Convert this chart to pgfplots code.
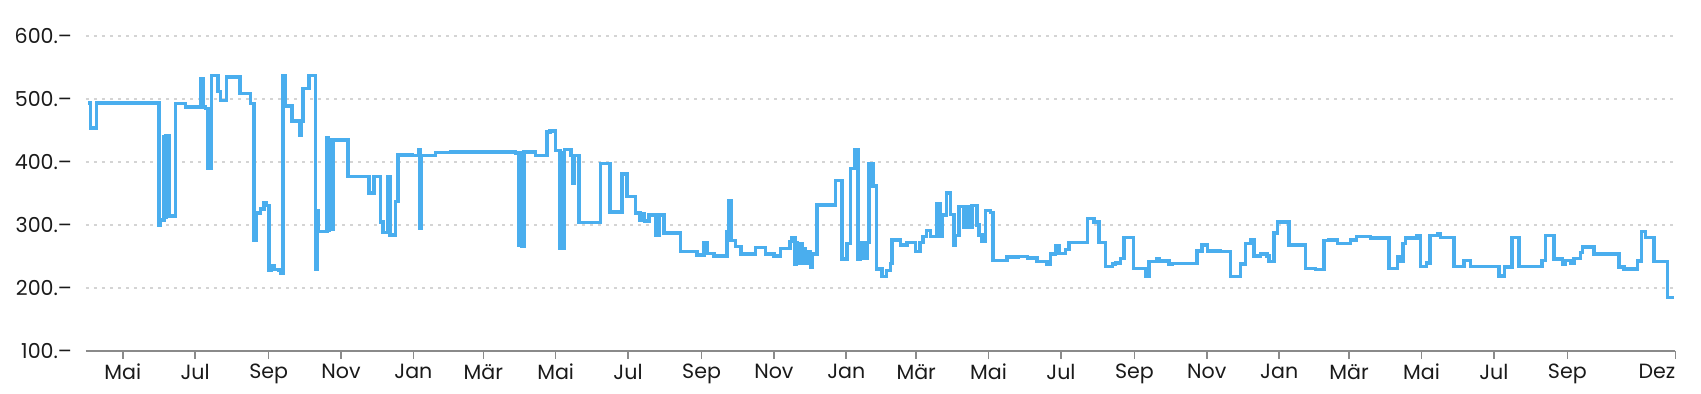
\documentclass[border=0pt]{standalone}
\usepackage{fontspec}
\setmainfont{Poppins}
\usepackage{pgfplots}
\pgfplotsset{compat=1.18}
\definecolor{linecol}{HTML}{4AAEEE}
\definecolor{gridcol}{HTML}{D4D4D4}
\definecolor{axiscol}{HTML}{8A8A8A}
\definecolor{txtcol}{HTML}{1A1A1A}
\begin{document}
\begin{tikzpicture}
\useasboundingbox (-43pt,-21.5pt) rectangle (807.5pt,175.5pt);
\begin{axis}[
  scale only axis,
  width=794.65pt, height=157.5pt,
  xmin=-276, xmax=1064,
  ymin=100, ymax=600,
  axis x line*=bottom,
  axis y line*=left,
  y axis line style={draw=none},
  x axis line style={draw=axiscol, line width=0.8pt},
  xtick={-245,-184,-122,-61,0,59,120,181,243,304,365,424,485,546,608,669,730,789,850,911,973,1064},
  xticklabels={Mai,Jul,Sep,Nov,Jan,Mär,Mai,Jul,Sep,Nov,Jan,Mär,Mai,Jul,Sep,Nov,Jan,Mär,Mai,Jul,Sep,\makebox[0pt][r]{Dez}},
  ytick={100,200,300,400,500,600},
  yticklabels={100.–,200.–,300.–,400.–,500.–,600.–},
  tick align=outside,
  x tick style={draw=axiscol, line width=0.8pt},
  y tick style={draw=none},
  major tick length=4pt,
  ymajorgrids,
  grid style={draw=gridcol, line width=0.6pt, dash pattern=on 1.5pt off 2.5pt},
  ticklabel style={font=\fontsize{10.3}{12}\selectfont, text=txtcol},
  yticklabel style={xshift=0.5pt},
  xticklabel style={yshift=1pt},
  clip=false,
]
\addplot[const plot, color=linecol, line width=1.75pt, mark=none] coordinates {
(-274,494) (-272,454) (-267,494) (-214.6,300) (-213.2,308) (-210.4,440) (-209.3,312) (-208.5,442) (-206.2,314)
(-200.5,493) (-192.1,487) (-179.5,532) (-177.2,487) (-175.2,485) (-173.3,390) (-172.5,485) (-171.5,390)
(-170.2,537) (-164.6,512) (-162.6,498) (-157.5,535) (-146.3,509) (-137.3,493) (-134.5,276) (-132.2,319)
(-128.9,325) (-126.1,335) (-123.8,331) (-121.8,228) (-119.5,235) (-117.6,229) (-113.4,228) (-111.6,223)
(-110.0,537) (-107.8,489) (-102.2,465) (-95.7,443) (-94.5,465) (-92.9,517) (-88.1,537) (-82.5,229)
(-81.0,322) (-79.8,290) (-72.7,439) (-71.5,292) (-70.5,436) (-69.2,293) (-67.6,435) (-55.2,377)
(-37.5,351) (-33.3,377) (-27.7,305) (-25.4,288) (-21.5,377) (-19.8,284) (-15.0,337) (-13.1,411)
(-1.0,410) (4.6,419) (5.5,295) (6.9,410) (18.7,415) (31.3,416) (86.1,414) (89.0,268) (90.5,414)
(91.5,266) (93.2,416) (103.0,410) (112.8,448) (115,449) (119.9,418) (123.5,263) (125,415) (126.2,263)
(127.5,420) (133.1,410) (134.8,366) (135.9,410) (139.6,304) (157.8,398) (165.7,321) (176.1,381)
(180.3,345) (187.3,319) (191.0,307) (193,318) (195,306) (198.6,316) (204.2,284) (207.0,316) (211.2,287)
(225.3,258) (239.3,252) (244.9,272) (247.8,255) (253.4,251) (264.6,289) (266.0,338) (268.0,275)
(271.7,266) (276.4,254) (288.5,264) (296.9,254) (304.0,251) (309.6,263) (317.5,274) (319.4,280)
(321.7,238) (323,272) (324,239) (325.1,271) (327.9,239) (329,262) (330,240) (332.1,258) (334.9,233)
(336.5,255) (338.3,253) (340.5,332) (356.0,371) (361.6,246) (365.8,271) (368.6,390) (372.0,420)
(374.8,246) (376.5,272) (378,247) (379.5,272) (381,247) (382.5,272) (384.1,398) (387.7,362) (390.5,230)
(395.3,218) (399.0,228) (402.3,239) (403.7,276) (410.8,268) (416.4,272) (423.4,258) (427.1,272)
(429.9,282) (432.7,291) (436.1,282) (441.1,333) (443.9,282) (445.9,316) (449.6,351) (452.9,317)
(455.7,268) (457.2,283) (460.0,329) (464.2,297) (466.4,329) (469.2,297) (471.2,331) (475.4,300)
(476.8,284) (479.6,274) (482.5,323) (486.7,320) (488.9,244) (500.7,249) (510,250) (517.6,248)
(526.0,242) (534.4,238) (537.3,254) (541.5,267) (544.3,255) (549.9,261) (552.7,272) (568.2,310)
(573.8,305) (578.0,272) (583.6,234) (589.3,238) (592,240) (596.3,247) (599.1,280) (607.0,231)
(617.4,219) (620.2,242) (626.6,246) (628.6,243) (637.0,237) (639.8,239) (660.9,259) (665.1,268)
(669.4,259) (680,258) (689.0,218) (697.5,238) (701.7,271) (705.9,277) (708.7,251) (714.3,254)
(719.9,251) (721.4,242) (725.6,287) (728.4,305) (738.2,268) (752.3,231) (760.7,229) (767.7,275)
(772,276) (779.0,271) (790.2,276) (795.3,282) (807.1,279) (822.5,231) (829.6,250) (832.4,242)
(834.6,271) (836.6,279) (846.4,283) (849.2,234) (854.3,240) (857.1,283) (863.3,286) (866.1,280)
(877.4,234) (885.8,244) (891.4,234) (915.3,219) (920.1,233) (926.5,280) (932.2,234) (951.8,244)
(954.6,283) (961.7,246) (968.7,237) (971.5,244) (975.7,239) (978.5,247) (984.2,256) (985.6,265)
(995.4,254) (1016.5,233) (1020.7,230) (1031.9,243) (1035.3,290) (1039.0,280) (1046.0,242)
(1057.2,185) (1063,185)
};
\end{axis}
\end{tikzpicture}
\end{document}
